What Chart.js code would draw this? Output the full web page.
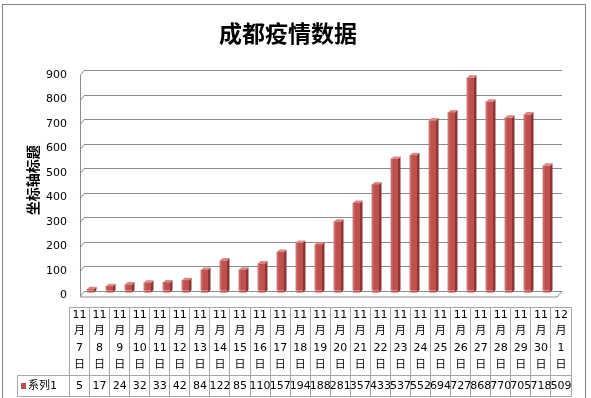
<!DOCTYPE html>
<html><head><meta charset="utf-8">
<script src="https://cdn.jsdelivr.net/npm/chart.js@4"></script>
<style>html,body{margin:0;padding:0;background:#fff;}canvas{display:block;}</style>
</head><body>
<canvas id="c" width="591" height="398"></canvas>
<script>
const categories = ['11月7日','11月8日','11月9日','11月10日','11月11日','11月12日','11月13日','11月14日','11月15日','11月16日','11月17日','11月18日','11月19日','11月20日','11月21日','11月22日','11月23日','11月24日','11月25日','11月26日','11月27日','11月28日','11月29日','11月30日','12月1日'];
const values = [5,17,24,32,33,42,84,122,85,110,157,194,188,281,357,433,537,552,694,727,868,770,705,718,509];
const seriesName = '系列1';
const chartTitle = '成都疫情数据';
const axisTitle = '坐标轴标题';
const yTicks = [0,100,200,300,400,500,600,700,800,900];

const FRONT = '#C0504D', SIDE = '#8E3533', TOP = '#D98A88';
const numFont = '"DejaVu Sans", "Noto Sans CJK SC", sans-serif';

const excel3d = {
  id: 'excel3d',
  beforeDraw(chart) {
    const ctx = chart.ctx;
    ctx.save();
    ctx.fillStyle = '#fff';
    ctx.fillRect(0, 0, chart.width, chart.height);
    ctx.strokeStyle = '#7f7f7f';
    ctx.lineWidth = 1;
    ctx.strokeRect(2.5, 4.5, 583, 400);
    ctx.restore();
  },
  beforeDatasetsDraw(chart) {
    const ctx = chart.ctx, a = chart.chartArea, y = chart.scales.y;
    const L = a.left, R = a.right;
    const fL = L - 1, bL = L + 3, bR = R + 6, fR = R + 1, dy = 5.5;
    ctx.save();
    ctx.strokeStyle = '#8c8c8c';
    ctx.lineWidth = 1;
    yTicks.forEach(v => {
      const py = Math.round(y.getPixelForValue(v)) + 0.5;
      ctx.beginPath();
      ctx.moveTo(fL, py + dy);
      ctx.lineTo(bL, py);
      ctx.lineTo(bR, py);
      ctx.stroke();
    });
    const top = Math.round(y.getPixelForValue(yTicks[yTicks.length - 1])) + 0.5;
    const bot = Math.round(y.getPixelForValue(0)) + 0.5;
    ctx.beginPath();
    ctx.moveTo(fL + 0.5, top + dy);
    ctx.lineTo(fL + 0.5, bot + dy);
    ctx.lineTo(fR, bot + dy);
    ctx.lineTo(bR, bot);
    ctx.stroke();
    ctx.restore();
  },
  afterDatasetsDraw(chart) {
    const ctx = chart.ctx;
    const meta = chart.getDatasetMeta(0);
    const d = 2.5;
    ctx.save();
    meta.data.forEach(el => {
      const w = el.width, x0 = el.x - w / 2, x1 = el.x + w / 2, yt = el.y, yb = el.base + 2;
      ctx.fillStyle = FRONT;
      ctx.fillRect(x0, yb - 2, w, 2);
      ctx.fillStyle = SIDE;
      ctx.beginPath();
      ctx.moveTo(x1, yt); ctx.lineTo(x1 + d, yt - d); ctx.lineTo(x1 + d, yb - d); ctx.lineTo(x1, yb);
      ctx.closePath(); ctx.fill();
      ctx.fillStyle = TOP;
      ctx.beginPath();
      ctx.moveTo(x0, yt); ctx.lineTo(x1, yt); ctx.lineTo(x1 + d, yt - d); ctx.lineTo(x0 + d, yt - d);
      ctx.closePath(); ctx.fill();
      ctx.fillStyle = 'rgba(255,255,255,0.18)';
      ctx.fillRect(x0, yt, 1.5, yb - yt);
    });
    ctx.restore();
  },
  afterDraw(chart) {
    const ctx = chart.ctx;
    const tL = 69, tR = 570.5, tTop = 307.5, tMid = 375.5, tBot = 396.5, legL = 17.5;
    const n = categories.length, cw = (tR - tL) / n;
    ctx.save();
    ctx.strokeStyle = '#a6a6a6';
    ctx.lineWidth = 1;
    ctx.beginPath();
    for (let i = 0; i <= n; i++) {
      const x = Math.round(tL + i * cw) + 0.5;
      ctx.moveTo(x, tTop); ctx.lineTo(x, tBot);
    }
    ctx.moveTo(Math.round(tL) + 0.5, tTop); ctx.lineTo(Math.round(tR) + 0.5, tTop);
    ctx.moveTo(legL, tMid); ctx.lineTo(Math.round(tR) + 0.5, tMid);
    ctx.moveTo(legL, tBot); ctx.lineTo(Math.round(tR) + 0.5, tBot);
    ctx.moveTo(legL, tMid); ctx.lineTo(legL, tBot);
    ctx.stroke();

    ctx.fillStyle = '#000';
    ctx.textAlign = 'center';
    ctx.textBaseline = 'middle';
    ctx.font = '11px ' + numFont;
    const rows = [315.5, 331.5, 348, 365];
    categories.forEach((c, i) => {
      const m = c.match(/(\d+)月(\d+)日/);
      const parts = [m[1], '月', m[2], '日'];
      const cx = tL + (i + 0.5) * cw + 0.5;
      parts.forEach((p, k) => ctx.fillText(p, cx, rows[k]));
    });
    ctx.font = '11px ' + numFont;
    values.forEach((v, i) => {
      ctx.fillText(String(v), tL + (i + 0.5) * cw + 0.5, 386.5);
    });
    ctx.fillStyle = FRONT;
    ctx.fillRect(21, 383, 5, 6);
    ctx.fillStyle = '#000';
    ctx.textAlign = 'left';
    ctx.font = '11px ' + numFont;
    ctx.fillText(seriesName, 28, 386.5);
    ctx.restore();
  }
};

new Chart(document.getElementById('c'), {
  type: 'bar',
  data: {
    labels: categories,
    datasets: [{
      label: seriesName,
      data: values,
      backgroundColor: FRONT,
      borderWidth: 0,
      barThickness: 7
    }]
  },
  options: {
    responsive: false,
    animation: false,
    events: [],
    layout: { padding: { top: 8, left: 20.1, right: 35, bottom: 107.5 } },
    plugins: {
      legend: { display: false },
      tooltip: { enabled: false },
      title: {
        display: true,
        text: chartTitle,
        color: '#000',
        font: { family: '"Noto Sans CJK SC", sans-serif', size: 23, weight: 'bold' },
        padding: { top: 11.2, bottom: 23.2 }
      }
    },
    scales: {
      x: { display: false, offset: true },
      y: {
        min: 0, max: 900,
        afterBuildTicks: s => { s.ticks = yTicks.map(v => ({ value: v })); },
        afterFit: s => { s.width = 60.9; },
        grid: { display: false, drawTicks: false },
        border: { display: false },
        ticks: { padding: 14, labelOffset: 5, color: '#000', font: { family: numFont, size: 11 } },
        title: {
          display: true, text: axisTitle, color: '#000',
          font: { family: '"Noto Sans CJK SC", sans-serif', size: 14, weight: 'bold' },
          padding: { top: 4, bottom: 4 }
        }
      }
    }
  },
  plugins: [excel3d]
});
</script>
</body></html>
